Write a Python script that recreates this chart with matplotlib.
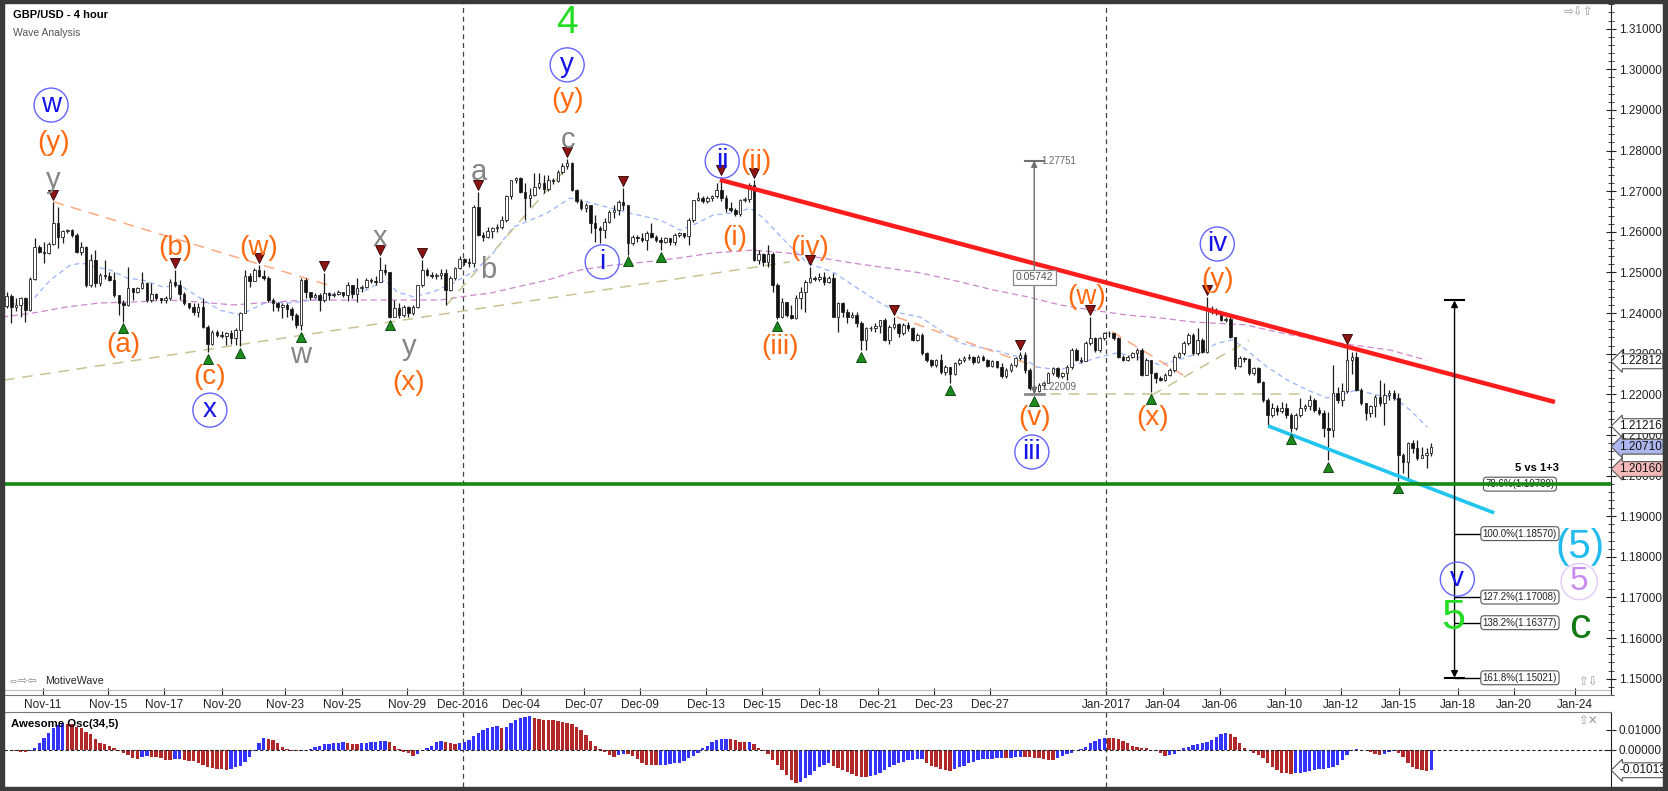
import numpy as np
import matplotlib.pyplot as plt
from matplotlib.patches import Rectangle
from matplotlib.ticker import FixedLocator, MultipleLocator, FuncFormatter

plt.rcParams['font.family'] = ['Liberation Sans', 'DejaVu Sans']

# 4 hour candles, prices given in pips above 1.0000 (2443 -> 1.2443)
first_open = 2418
closes = [2443, 2416, 2420, 2436, 2407, 2485, 2563, 2551, 2547, 2571,
          2621, 2588, 2602, 2604, 2592, 2551, 2563, 2469, 2530, 2475,
          2494, 2490, 2481, 2444, 2424, 2420, 2461, 2452, 2461, 2473,
          2432, 2448, 2436, 2432, 2438, 2477, 2469, 2448, 2424, 2414,
          2403, 2416, 2366, 2325, 2354, 2346, 2344, 2350, 2338, 2358,
          2399, 2492, 2478, 2505, 2492, 2486, 2432, 2424, 2416, 2420,
          2410, 2395, 2371, 2482, 2452, 2440, 2445, 2432, 2449, 2445,
          2447, 2452, 2444, 2470, 2448, 2461, 2465, 2482, 2478, 2476,
          2505, 2500, 2391, 2412, 2395, 2416, 2400, 2416, 2469, 2506,
          2494, 2490, 2494, 2498, 2457, 2486, 2510, 2533, 2525, 2522,
          2662, 2592, 2588, 2601, 2609, 2612, 2629, 2687, 2728, 2732,
          2699, 2683, 2691, 2711, 2720, 2705, 2728, 2724, 2748, 2761,
          2770, 2703, 2675, 2658, 2666, 2621, 2609, 2605, 2625, 2650,
          2654, 2674, 2666, 2572, 2588, 2585, 2580, 2597, 2588, 2580,
          2576, 2584, 2574, 2592, 2596, 2590, 2629, 2679, 2683, 2675,
          2683, 2687, 2703, 2684, 2658, 2654, 2645, 2678, 2682, 2715,
          2530, 2545, 2525, 2545, 2469, 2391, 2428, 2395, 2388, 2436,
          2453, 2477, 2486, 2484, 2489, 2477, 2487, 2391, 2424, 2403,
          2391, 2396, 2375, 2334, 2362, 2364, 2368, 2383, 2334, 2366,
          2372, 2350, 2370, 2362, 2334, 2346, 2301, 2284, 2272, 2284,
          2255, 2266, 2251, 2276, 2284, 2290, 2293, 2279, 2293, 2285,
          2270, 2281, 2268, 2244, 2260, 2272, 2289, 2297, 2260, 2215,
          2207, 2223, 2227, 2252, 2264, 2244, 2252, 2268, 2309, 2285,
          2281, 2326, 2338, 2309, 2338, 2350, 2352, 2338, 2293, 2285,
          2293, 2301, 2309, 2248, 2285, 2252, 2240, 2236, 2248, 2260,
          2293, 2301, 2326, 2346, 2301, 2334, 2305, 2410, 2403, 2401,
          2383, 2386, 2342, 2270, 2289, 2287, 2252, 2264, 2231, 2186,
          2149, 2166, 2160, 2166, 2150, 2116, 2149, 2166, 2170, 2186,
          2161, 2153, 2116, 2112, 2203, 2186, 2207, 2285, 2293, 2211,
          2178, 2153, 2170, 2194, 2178, 2198, 2203, 2190, 2051, 2034,
          2079, 2067, 2043, 2051, 2055, 2071]
highs = [2452, 2446, 2436, 2440, 2440, 2489, 2584, 2567, 2576, 2575,
         2674, 2662, 2605, 2608, 2606, 2596, 2576, 2565, 2545, 2555,
         2498, 2530, 2500, 2502, 2444, 2432, 2514, 2462, 2464, 2502,
         2477, 2473, 2450, 2438, 2442, 2485, 2506, 2481, 2452, 2424,
         2424, 2424, 2436, 2370, 2358, 2358, 2356, 2354, 2358, 2362,
         2403, 2506, 2498, 2510, 2518, 2506, 2490, 2436, 2428, 2424,
         2424, 2416, 2400, 2486, 2486, 2453, 2449, 2449, 2498, 2453,
         2451, 2457, 2453, 2476, 2470, 2486, 2469, 2486, 2486, 2490,
         2538, 2520, 2500, 2432, 2425, 2420, 2418, 2420, 2469, 2531,
         2510, 2500, 2498, 2508, 2508, 2490, 2514, 2540, 2535, 2535,
         2666, 2699, 2600, 2612, 2613, 2620, 2638, 2691, 2728, 2736,
         2736, 2720, 2707, 2744, 2744, 2740, 2740, 2732, 2752, 2769,
         2779, 2772, 2705, 2681, 2670, 2666, 2642, 2615, 2633, 2654,
         2666, 2679, 2707, 2666, 2592, 2592, 2597, 2601, 2621, 2592,
         2588, 2588, 2584, 2597, 2600, 2597, 2633, 2679, 2699, 2687,
         2687, 2691, 2720, 2735, 2690, 2674, 2658, 2682, 2686, 2720,
         2727, 2555, 2547, 2567, 2551, 2473, 2436, 2428, 2420, 2444,
         2465, 2481, 2514, 2490, 2498, 2502, 2490, 2498, 2428, 2428,
         2411, 2403, 2403, 2380, 2366, 2368, 2375, 2383, 2387, 2370,
         2391, 2375, 2375, 2377, 2366, 2350, 2350, 2305, 2288, 2288,
         2300, 2272, 2268, 2280, 2290, 2295, 2298, 2295, 2297, 2297,
         2287, 2285, 2283, 2277, 2264, 2276, 2293, 2305, 2303, 2264,
         2223, 2227, 2232, 2256, 2268, 2266, 2256, 2272, 2313, 2313,
         2293, 2330, 2391, 2342, 2342, 2354, 2356, 2352, 2342, 2297,
         2297, 2305, 2313, 2313, 2289, 2285, 2256, 2246, 2252, 2264,
         2297, 2305, 2330, 2350, 2350, 2363, 2338, 2440, 2418, 2412,
         2405, 2390, 2391, 2342, 2295, 2293, 2289, 2268, 2266, 2233,
         2190, 2178, 2174, 2182, 2178, 2153, 2153, 2190, 2175, 2198,
         2190, 2168, 2161, 2157, 2272, 2219, 2227, 2320, 2305, 2305,
         2215, 2178, 2174, 2198, 2235, 2227, 2211, 2211, 2203, 2055,
         2083, 2088, 2088, 2071, 2067, 2079]
lows = [2412, 2375, 2405, 2391, 2379, 2405, 2481, 2547, 2522, 2545,
        2567, 2559, 2572, 2598, 2588, 2547, 2543, 2465, 2465, 2465,
        2466, 2485, 2478, 2440, 2395, 2379, 2418, 2432, 2450, 2460,
        2428, 2428, 2432, 2425, 2425, 2432, 2465, 2432, 2420, 2410,
        2395, 2391, 2364, 2305, 2322, 2342, 2338, 2322, 2325, 2322,
        2318, 2399, 2465, 2478, 2488, 2482, 2428, 2404, 2404, 2387,
        2391, 2383, 2363, 2358, 2436, 2432, 2436, 2404, 2428, 2432,
        2440, 2444, 2440, 2430, 2436, 2428, 2453, 2461, 2475, 2470,
        2476, 2494, 2387, 2391, 2387, 2391, 2391, 2395, 2412, 2465,
        2490, 2486, 2484, 2484, 2420, 2455, 2482, 2508, 2518, 2514,
        2514, 2590, 2578, 2585, 2584, 2600, 2607, 2625, 2680, 2720,
        2695, 2629, 2662, 2687, 2705, 2695, 2700, 2718, 2722, 2742,
        2755, 2700, 2670, 2654, 2650, 2597, 2576, 2572, 2584, 2621,
        2633, 2642, 2654, 2544, 2568, 2576, 2576, 2556, 2584, 2576,
        2556, 2572, 2568, 2568, 2588, 2584, 2568, 2625, 2675, 2670,
        2672, 2675, 2683, 2675, 2650, 2650, 2640, 2640, 2674, 2674,
        2527, 2520, 2515, 2514, 2453, 2385, 2387, 2391, 2385, 2386,
        2410, 2403, 2475, 2480, 2480, 2469, 2475, 2391, 2354, 2391,
        2375, 2387, 2366, 2309, 2309, 2355, 2354, 2350, 2330, 2325,
        2360, 2342, 2346, 2355, 2330, 2330, 2297, 2280, 2268, 2268,
        2251, 2247, 2227, 2247, 2272, 2280, 2285, 2275, 2277, 2281,
        2266, 2268, 2264, 2240, 2240, 2256, 2266, 2285, 2252, 2211,
        2201, 2205, 2215, 2227, 2248, 2240, 2240, 2236, 2262, 2281,
        2277, 2281, 2322, 2305, 2305, 2334, 2342, 2334, 2289, 2281,
        2281, 2289, 2285, 2244, 2248, 2205, 2228, 2232, 2232, 2244,
        2256, 2289, 2297, 2322, 2297, 2297, 2301, 2301, 2398, 2395,
        2380, 2378, 2338, 2262, 2266, 2280, 2248, 2248, 2227, 2182,
        2124, 2145, 2149, 2153, 2141, 2106, 2112, 2145, 2160, 2161,
        2157, 2149, 2096, 2038, 2096, 2178, 2170, 2203, 2250, 2207,
        2174, 2137, 2145, 2145, 2170, 2125, 2186, 2186, 1987, 2005,
        1990, 2055, 2038, 2043, 2018, 2047]

# awesome oscillator, units of 0.0001
ao = [-1, -4, -7, -8, -9, -5, 8, 33, 58, 87,
      108, 125, 133, 132, 128, 117, 108, 92, 80, 55,
      33, 28, 22, 8, -3, -13, -25, -42, -45, -33,
      -28, -33, -34, -38, -50, -51, -45, -44, -50, -53,
      -55, -63, -75, -87, -92, -95, -97, -100, -95, -87,
      -80, -58, -33, -3, 33, 58, 57, 50, 33, 17,
      5, -3, -5, -3, 0, 5, 13, 22, 28, 29,
      33, 34, 38, 37, 30, 29, 33, 34, 38, 42,
      43, 47, 38, 22, 5, -8, -17, -28, -20, -5,
      8, 22, 42, 47, 38, 33, 28, 33, 38, 50,
      70, 87, 100, 108, 117, 118, 108, 117, 133, 150,
      158, 167, 168, 162, 153, 150, 149, 148, 147, 142,
      137, 128, 117, 100, 75, 47, 20, 3, -12, -25,
      -33, -25, -20, -21, -30, -47, -63, -75, -76, -77,
      -75, -74, -72, -67, -63, -53, -42, -30, -13, 8,
      22, 42, 50, 55, 56, 55, 50, 42, 38, 42,
      28, 12, -5, -20, -50, -75, -100, -125, -150, -167,
      -158, -142, -125, -103, -87, -75, -63, -80, -92, -100,
      -108, -122, -130, -133, -134, -130, -125, -113, -100, -87,
      -75, -67, -58, -50, -48, -45, -44, -67, -80, -87,
      -97, -100, -103, -97, -87, -80, -67, -58, -50, -47,
      -45, -43, -42, -40, -42, -40, -37, -33, -34, -37,
      -38, -42, -47, -50, -51, -42, -30, -22, -13, 0,
      3, 17, 33, 45, 55, 62, 61, 58, 53, 45,
      33, 22, 17, 12, 8, 0, -3, -17, -29, -27,
      -20, -5, 8, 17, 23, 28, 33, 42, 50, 63,
      78, 83, 82, 67, 33, 12, 0, -13, -25, -42,
      -63, -83, -100, -113, -117, -120, -117, -113, -108, -103,
      -100, -97, -96, -92, -87, -75, -50, -25, -3, 3,
      2, 0, -8, -20, -25, -20, -8, -3, -13, -33,
      -63, -83, -97, -102, -106, -101]

# moving averages (bar index, pips)
fast_ma_bar = [-1, 5, 9.3, 13.6, 16.1, 19.3, 22.1, 25.8, 29.2, 33.5,
               37.1, 41.4, 45.7, 50, 52, 55.7, 60.7, 65.6, 71.4, 77.1,
               81, 83.6, 87, 91.3, 95.6, 99.8, 103.5, 108.4, 115.7, 120.6,
               122.8, 128.5, 133.5, 139.9, 144.2, 147.8, 151.2, 156.4, 159.2, 162,
               167.1, 171.4, 176.9, 182.7, 187, 191.3, 195.6, 199.9, 204.1, 211.2,
               217.6, 220.6, 225.5, 229.8, 234.1, 237.8, 242, 247, 250.6, 255.5,
               259.2, 262.6, 266.2, 269.9, 274.2, 278.4, 282.7, 285.5, 289.1, 293.4,
               296.9, 300.5, 304.2]
fast_ma_val = [2420, 2425, 2481, 2518, 2523, 2513, 2506, 2486, 2481, 2464,
               2469, 2437, 2407, 2395, 2407, 2427, 2425, 2432, 2449, 2457,
               2481, 2452, 2440, 2452, 2474, 2501, 2538, 2611, 2646, 2683,
               2678, 2661, 2646, 2629, 2604, 2621, 2641, 2648, 2658, 2634,
               2572, 2523, 2501, 2457, 2425, 2400, 2390, 2358, 2326, 2309,
               2289, 2267, 2260, 2277, 2292, 2302, 2292, 2272, 2284, 2302,
               2326, 2334, 2302, 2267, 2235, 2211, 2191, 2198, 2211, 2198,
               2193, 2161, 2119]
slow_ma_bar = [-1, 5.6, 12.9, 20, 27, 34.3, 41.4, 48.5, 57, 64.3,
               71.4, 78.4, 85.7, 92.8, 99.8, 103.5, 108.4, 115.7, 122.8, 129.8,
               137.1, 144.2, 151.2, 159.8, 167.1, 174.2, 181.2, 188.5, 195.6, 202.6,
               211.2, 218.5, 225.5, 232.6, 239.9, 247, 254, 265.2, 272.9, 280.6,
               288.5, 296.2, 304]
slow_ma_val = [2390, 2400, 2415, 2425, 2427, 2432, 2427, 2420, 2427, 2432,
               2432, 2432, 2432, 2432, 2444, 2449, 2462, 2481, 2506, 2518,
               2526, 2536, 2548, 2555, 2548, 2536, 2523, 2511, 2499, 2481,
               2457, 2440, 2420, 2407, 2395, 2388, 2378, 2371, 2351, 2334,
               2321, 2309, 2284]

# date axis (positions in bars, weekends skipped)
date_pos = [7.8, 21.7, 33.7, 46.1, 59.6, 71.8, 85.7, 97.7, 110.1, 123.6,
            135.6, 149.7, 161.7, 174, 186.6, 198.6, 210.6, 235.4, 247.6, 259.8,
            273.7, 285.7, 298.1, 310.8, 322.8, 335.8]
date_labels = ['Nov-11', 'Nov-15', 'Nov-17', 'Nov-20', 'Nov-23', 'Nov-25', 'Nov-29',
               'Dec-2016', 'Dec-04', 'Dec-07', 'Dec-09', 'Dec-13', 'Dec-15', 'Dec-18',
               'Dec-21', 'Dec-23', 'Dec-27', 'Jan-2017', 'Jan-04', 'Jan-06', 'Jan-10',
               'Jan-12', 'Jan-15', 'Jan-18', 'Jan-20', 'Jan-24']
month_lines = [97.6, 235.3]

# swing markers
swing_highs = [10, 36, 54, 68, 80, 89, 101, 120, 132, 153, 160, 172, 190, 217, 232, 257, 287]
swing_lows = [25, 43, 50, 63, 82, 133, 140, 165, 183, 202, 220, 245, 275, 283, 298]

# dashed trend lines: bar0, price0, bar1, price1
orange_lines = [(10, 1.2674, 68.8, 1.2469), (190.6, 1.2390, 220.6, 1.2267),
                (236.7, 1.2354, 251.9, 1.2247)]
khaki_lines = [(-0.6, 1.2235, 167.7, 1.2526), (94.2, 1.2420, 119.5, 1.2752),
               (219.6, 1.22009, 278, 1.22009), (245.2, 1.2198, 266, 1.2333)]
red_line = (152.7, 1.2728, 331.5, 1.2181)
cyan_line = (270.1, 1.2122, 318.5, 1.1908)
support = 1.19788

# wave labels
circ_text = ['w', 'y', 'x', 'i', 'ii', 'iii', 'iv', 'v']
circ_bar = [9.5, 120, 43.5, 127.5, 153.2, 219.5, 259.2, 310.6]
circ_price = [1.2912, 1.3011, 1.2161, 1.2526, 1.2774, 1.2058, 1.2570, 1.1745]
orange_text = ['(y)', '(b)', '(w)', '(a)', '(c)', '(x)', '(y)', '(ii)', '(i)', '(iv)',
               '(iii)', '(v)', '(w)', '(x)', '(y)']
orange_bar = [10, 36, 54, 25, 43.5, 86.1, 120, 160.3, 155.9, 171.9,
              165.6, 220, 231.2, 245.4, 259.3]
orange_price = [1.2818, 1.2559, 1.2559, 1.2321, 1.2243, 1.2227, 1.2924, 1.2773, 1.2584, 1.2559,
                1.2317, 1.2141, 1.2440, 1.2141, 1.2481]
gray_text = ['y', 'x', 'w', 'y', 'a', 'b', 'c']
gray_bar = [10, 80, 63, 86.1, 101, 103, 120.2]
gray_price = [1.2728, 1.2584, 1.2297, 1.2317, 1.2748, 1.2506, 1.2826]

# measure tool and fibonacci projection
meas_bar, meas_lo, meas_hi = 220, 1.22009, 1.27751
fib_bar, fib_top = 310, 1.24312
fib_levels = [1.19788, 1.18570, 1.17008, 1.16377, 1.15021]
fib_labels = ['78.6%(1.19788)', '100.0%(1.18570)', '127.2%(1.17008)',
              '138.2%(1.16377)', '161.8%(1.15021)']
price_tags = [1.22812, 1.21216, 1.20710, 1.20160]
price_tag_colors = ['white', 'white', '#aeb6ee', '#f3b9b9']
ao_tag = -0.01013

W, H = 1668, 791
fig = plt.figure(figsize=(W / 100, H / 100), dpi=100, facecolor='white')
ax = fig.add_axes([4 / W, 1 - 695 / H, 1607 / W, 692 / H])
ax2 = fig.add_axes([4 / W, 1 - 787 / H, 1607 / W, 75 / H])

bars = np.arange(len(closes))
c = 1 + np.array(closes) / 1e4
hi = 1 + np.array(highs) / 1e4
lo = 1 + np.array(lows) / 1e4
o = np.r_[1 + first_open / 1e4, c[:-1]]
up = c >= o

# candles
ax.vlines(bars, lo, hi, color='#1a1a1a', lw=0.9, zorder=4)
ax.bar(bars, np.maximum(np.abs(c - o), 0.00008), bottom=np.minimum(o, c), width=0.55,
       color=np.where(up, 'white', '#111111'), edgecolor='#222222', lw=0.6, zorder=5)

# moving averages
ax.plot(fast_ma_bar, 1 + np.array(fast_ma_val) / 1e4, color='#9ab4ff', lw=0.9,
        ls=(0, (4, 3)), zorder=3)
ax.plot(slow_ma_bar, 1 + np.array(slow_ma_val) / 1e4, color='#cc88cc', lw=0.9,
        ls=(0, (5, 3)), zorder=3)

for b0, p0, b1, p1 in orange_lines:
    ax.plot([b0, b1], [p0, p1], color='#ffaa80', lw=1.1, ls=(0, (7, 5)), zorder=3)
for b0, p0, b1, p1 in khaki_lines:
    ax.plot([b0, b1], [p0, p1], color='#c9c393', lw=1.1, ls=(0, (7, 5)), zorder=3)

ax.plot(red_line[::2], red_line[1::2], color='#ff1c1c', lw=3.2, zorder=6, solid_capstyle='butt')
ax.plot(cyan_line[::2], cyan_line[1::2], color='#22c4f0', lw=2.6, zorder=6, solid_capstyle='butt')

for m in month_lines:
    ax.axvline(m, color='#444444', lw=0.9, ls=(0, (4, 3)), zorder=2)
    ax2.axvline(m, color='#444444', lw=0.9, ls=(0, (4, 3)), zorder=2)

# swing triangles
ax.scatter(swing_highs, hi[swing_highs] + 0.0017, marker='v', s=52, c='#8e1414',
           edgecolors='#2a0000', linewidths=0.6, zorder=7)
ax.scatter(swing_lows, lo[swing_lows] - 0.0017, marker='^', s=52, c='#1d8a1d',
           edgecolors='#033d03', linewidths=0.6, zorder=7)

# wave labels
ax.scatter(circ_bar, circ_price, s=600, facecolors='none', edgecolors='#6464ff',
           linewidths=1.0, zorder=8)
for b, p, t in zip(circ_bar, circ_price, circ_text):
    ax.text(b, p, t, color='#1414e8', fontsize=20, ha='center', va='center', zorder=9)
for b, p, t in zip(orange_bar, orange_price, orange_text):
    ax.text(b, p, t, color='#ff6a10', fontsize=20, ha='center', va='center', zorder=9)
for b, p, t in zip(gray_bar, gray_price, gray_text):
    ax.text(b, p, t, color='#858585', fontsize=21, ha='center', va='center', zorder=9)

ax.text(120, 1.3113, '4', color='#22dd22', fontsize=28, ha='center', va='center', zorder=9)
ax.text(309.7, 1.1649, '5', color='#22dd22', fontsize=31, ha='center', va='center', zorder=9)
ax.text(336.9, 1.1628, 'c', color='#107a10', fontsize=31, ha='center', va='center', zorder=9)
ax.text(336.9, 1.1825, '(5)', color='#22bbee', fontsize=29, ha='center', va='center', zorder=9)
ax.scatter([336.7], [1.1739], s=680, facecolors='none', edgecolors='#e2caf8', linewidths=1.0, zorder=8)
ax.text(336.7, 1.1739, '5', color='#c88cf0', fontsize=24, ha='center', va='center', zorder=9)

# measure tool
ax.annotate('', xy=(meas_bar, meas_hi), xytext=(meas_bar, meas_lo),
            arrowprops=dict(arrowstyle='<|-|>', color='#707070', lw=1.0, mutation_scale=9,
                            shrinkA=0, shrinkB=0), zorder=6)
ax.plot([meas_bar - 2, meas_bar + 2], [meas_hi, meas_hi], color='#707070', lw=1.5, zorder=6)
ax.plot([meas_bar - 2, meas_bar + 2], [meas_lo, meas_lo], color='#888888', lw=2.0, zorder=6)
ax.text(meas_bar + 1.5, meas_hi, f'{meas_hi:.5f}', color='#666666', fontsize=7, va='center', zorder=9)
ax.text(meas_bar + 1.5, meas_lo + 0.0018, f'{meas_lo:.5f}', color='#666666', fontsize=7, va='center', zorder=9)
ax.text(meas_bar, (meas_lo + meas_hi) / 2, f'{meas_hi - meas_lo:.5f}', color='#555555', fontsize=7.5,
        ha='center', va='center', zorder=9,
        bbox=dict(boxstyle='square,pad=0.25', fc='white', ec='#888888', lw=0.9))

# fibonacci projection
ax.annotate('', xy=(fib_bar, fib_top), xytext=(fib_bar, fib_levels[-1]),
            arrowprops=dict(arrowstyle='<|-|>', color='black', lw=1.0, mutation_scale=10,
                            shrinkA=0, shrinkB=0), zorder=6)
ax.plot([fib_bar - 2, fib_bar + 2], [fib_top, fib_top], color='black', lw=1.5, zorder=6)
ax.plot([fib_bar - 2, fib_bar + 2], [fib_levels[-1]] * 2, color='black', lw=1.5, zorder=6)
for lev, lab in zip(fib_levels, fib_labels):
    ax.plot([fib_bar, 315.6], [lev, lev], color='black', lw=1.0, zorder=6)
    ax.text(324, lev, lab, fontsize=7, ha='center', va='center', color='#222222', zorder=7,
            bbox=dict(boxstyle='round,pad=0.2,rounding_size=0.35', fc='white', ec='#555555', lw=0.8))
ax.text(327.6, 1.2019, '5 vs 1+3', fontsize=8, fontweight='bold', ha='center', va='center', zorder=9)

ax.axhline(support, color='#138a13', lw=2.6, zorder=8)

# price axis
ax.set_xlim(-0.58, 343.5)
ax.set_ylim(1.14597, 1.31633)
ax.yaxis.tick_right()
ax.yaxis.set_major_locator(FixedLocator(np.arange(1.15, 1.3101, 0.01)))
ax.yaxis.set_minor_locator(MultipleLocator(0.002))
ax.yaxis.set_major_formatter(FuncFormatter(lambda v, p: f'{v:.5f}'))
ax.tick_params(axis='y', which='major', direction='inout', length=7, labelsize=8.5, pad=2,
               colors='#222222')
ax.tick_params(axis='y', which='minor', direction='inout', length=4, colors='#222222')
ax.set_xticks(date_pos)
ax.set_xticklabels(date_labels)
ax.tick_params(axis='x', direction='in', length=5, labelsize=8.5, pad=3, colors='#222222')
for s in ['top', 'left']:
    ax.spines[s].set_visible(False)
ax.spines['right'].set_color('#222222')
ax.spines['bottom'].set_color('#777777')
ax.plot([0, 1], [0.0072, 0.0072], transform=ax.transAxes, color='#bbbbbb', lw=0.8, clip_on=False)


def tag(axis, val, fc):
    axis.annotate(f'{val:.5f}', xy=(1, val), xycoords=axis.get_yaxis_transform(),
                  xytext=(8, 0), textcoords='offset pixels', ha='left', va='center',
                  fontsize=8.5, color='#111111', annotation_clip=False, zorder=20,
                  bbox=dict(boxstyle='larrow,pad=0.12', fc=fc, ec='#555555', lw=0.8))


for v, fc in zip(price_tags, price_tag_colors):
    tag(ax, v, fc)

# awesome oscillator
ao_val = np.array(ao) / 1e4
ao_up = np.r_[True, ao_val[1:] > ao_val[:-1]]
ax2.bar(bars, ao_val, width=0.72, color=np.where(ao_up, '#3434ff', '#b02828'), zorder=3)
ax2.axhline(0, color='#222222', lw=0.8, ls=(0, (3, 2)), zorder=4)
ax2.set_xlim(-0.58, 343.5)
ax2.set_ylim(-0.0185, 0.019)
ax2.yaxis.tick_right()
ax2.set_yticks([0.0, 0.01])
ax2.yaxis.set_major_formatter(FuncFormatter(lambda v, p: f'{v:.5f}'))
ax2.tick_params(axis='y', direction='inout', length=7, labelsize=8.5, pad=2, colors='#222222')
ax2.tick_params(axis='x', bottom=False, labelbottom=False)
for s in ['bottom', 'left']:
    ax2.spines[s].set_visible(False)
ax2.spines['top'].set_color('#777777')
ax2.spines['right'].set_color('#222222')
tag(ax2, ao_tag, 'white')
ax2.text(0.0042, 0.84, 'Awesome Osc(34,5)', transform=ax2.transAxes, fontsize=8.2,
         fontweight='bold', va='center', zorder=10)

# header texts and small icons
fig.text(13 / W, 1 - 15 / H, 'GBP/USD - 4 hour', fontsize=8, fontweight='bold', va='center')
fig.text(13 / W, 1 - 33 / H, 'Wave Analysis', fontsize=7.5, color='#555555', va='center')
fig.text(8 / W, 1 - 681 / H, '⇔⇨⇦', fontsize=8, color='#888888', va='center')
fig.text(45 / W, 1 - 681 / H, 'MotiveWave', fontsize=7.7, color='#222222', va='center')
fig.text(1564 / W, 1 - 12 / H, '⇨⇩⇧', fontsize=8.5, color='#999999', va='center')
fig.text(1578 / W, 1 - 682 / H, '⇧⇩', fontsize=8.5, color='#999999', va='center')
fig.text(1578 / W, 1 - 721 / H, '⇧✕', fontsize=8.5, color='#999999', va='center')

# dark window frame
for x0, y0, w, h in [(0, 0, 4, H), (0, H - 3, W, 3), (W - 5, 0, 5, H), (0, 0, W, 4)]:
    fig.patches.append(Rectangle((x0 / W, y0 / H), w / W, h / H, transform=fig.transFigure,
                                 color='#3a3a3a', zorder=30))

fig.savefig('out.png', dpi=100, facecolor='white')
